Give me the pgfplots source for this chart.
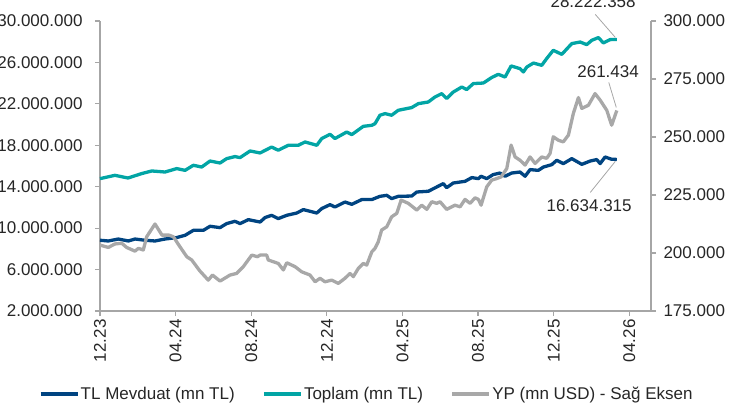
\documentclass[border=0pt]{standalone}
\usepackage{fontspec}
\setmainfont{Liberation Sans}
\usepackage{pgfplots}
\usepackage{pgfplotstable}
\pgfplotsset{compat=1.18}
\definecolor{tlblue}{HTML}{004481}
\definecolor{tealc}{HTML}{02A5A5}
\definecolor{ypgray}{HTML}{A8A8A8}
\definecolor{axgray}{HTML}{A6A6A6}
\definecolor{txt}{HTML}{262626}
\newcommand\fs{\fontsize{17bp}{20bp}\selectfont}

\pgfplotstableread{
x y
0 14.78
0.79 15.10
1.48 14.84
2.21 15.27
2.74 15.52
3.44 15.42
4.06 15.75
4.50 15.58
4.94 16.07
5.38 15.90
5.82 16.48
6.35 16.29
6.70 16.71
7.14 16.91
7.41 16.81
7.94 17.45
8.47 17.26
9.08 17.83
9.43 17.52
9.96 18.00
10.49 18.00
10.85 18.32
11.47 18.00
11.73 18.65
12.17 19.06
12.43 18.65
13.05 19.28
13.32 19.03
13.93 19.83
14.38 19.93
14.55 20.09
14.81 20.90
15.08 21.06
15.43 20.90
15.78 21.38
16.49 21.64
16.84 22.02
17.37 22.18
17.72 22.66
18.08 22.99
18.34 22.51
18.69 23.14
19.14 23.63
19.40 23.38
19.75 23.96
20.28 24.01
20.72 24.54
21.07 24.85
21.43 24.59
21.75 25.66
22.22 25.40
22.40 25.08
22.58 25.56
22.93 25.94
23.37 25.72
23.63 26.37
23.98 27.17
24.43 26.78
24.96 27.82
25.40 27.97
25.75 27.72
26.02 28.14
26.37 28.40
26.63 27.88
26.98 28.20
27.34 28.222
}\toplam

\pgfplotstableread{
x y
0 8.83
0.44 8.76
0.97 8.95
1.50 8.76
1.85 8.95
2.38 8.83
2.91 8.76
3.44 8.95
4.06 9.09
4.50 9.31
4.94 9.79
5.47 9.79
5.82 10.18
6.35 10.05
6.70 10.44
7.14 10.66
7.41 10.44
7.85 10.82
8.47 10.59
8.73 11.02
9.08 11.24
9.43 10.92
9.88 11.24
10.41 11.46
10.76 11.79
11.47 11.46
11.73 11.89
12.17 12.27
12.43 12.04
12.96 12.52
13.32 12.30
13.85 12.76
14.38 12.76
14.81 13.07
15.17 13.17
15.43 12.85
15.78 13.07
16.49 13.10
16.76 13.49
17.37 13.56
17.81 13.97
18.16 14.30
18.34 13.91
18.69 14.36
19.31 14.52
19.67 14.88
20.02 14.78
20.16 15.01
20.46 14.78
20.80 15.17
21.16 15.32
21.43 15.01
21.78 15.32
22.22 15.42
22.49 15.01
22.75 15.65
23.19 15.58
23.46 15.90
23.90 16.13
24.16 16.55
24.51 16.23
24.96 16.71
25.49 16.16
25.93 16.48
26.28 16.62
26.46 16.23
26.72 16.87
27.07 16.65
27.34 16.634
}\tlmev

\pgfplotstableread{
x y
0 203.4
0.44 202.4
0.79 203.9
1.15 204.2
1.41 202.4
1.85 200.8
2.03 202.0
2.29 201.3
2.47 207.0
2.91 212.5
3.28 207.7
3.65 207.7
3.88 207.0
4.23 202.7
4.59 198.4
4.85 197.0
5.29 192.2
5.73 188.3
5.95 190.5
6.35 187.9
6.88 190.5
7.23 191.2
7.58 194.1
8.03 199.1
8.33 198.4
8.47 199.1
8.82 199.1
8.90 197.0
9.43 195.5
9.70 192.7
9.88 195.8
10.32 194.1
10.67 191.9
11.11 190.5
11.38 187.6
11.64 189.1
11.90 187.6
12.26 188.3
12.61 186.9
12.96 189.1
13.23 191.2
13.40 189.8
13.67 193.4
13.93 195.5
14.11 194.8
14.38 200.5
14.55 202.0
14.72 204.8
14.90 209.9
15.17 211.3
15.43 215.6
15.70 217.1
15.93 222.8
16.31 221.4
16.76 218.5
17.02 220.6
17.29 218.8
17.55 222.1
17.81 221.4
17.99 222.1
18.34 218.8
18.78 220.6
19.05 219.9
19.31 223.1
19.58 221.4
19.84 223.8
20.02 223.1
20.16 220.6
20.46 228.5
20.72 231.4
20.99 232.1
21.22 232.8
21.52 236.4
21.75 246.5
21.96 241.4
22.22 240.0
22.49 237.9
22.75 241.4
23.02 238.6
23.37 241.4
23.63 240.8
23.81 242.9
23.98 250.1
24.25 248.6
24.51 247.9
24.78 250.8
25.04 260.1
25.31 267.0
25.49 262.3
25.84 263.7
26.19 268.7
26.46 265.9
26.81 261.5
27.07 255.1
27.34 261.434
}\yp

\begin{document}
\begin{tikzpicture}
\path[use as bounding box, clip] (-100bp,-95bp) rectangle (634bp,311bp);
\begin{axis}[
  at={(0,0)}, anchor=south west,
  scale only axis, width=551bp, height=290bp,
  clip=false,
  xmin=0, xmax=29.15, ymin=2, ymax=30,
  axis x line*=bottom, axis y line*=left,
  axis line style={axgray, line width=1.2bp},
  every tick/.style={axgray, line width=1.2bp},
  tick align=outside, major tick length=5bp,
  xtick={0,4,...,28},
  xticklabels={12.23,04.24,08.24,12.24,04.25,08.25,12.25,04.26},
  xticklabel style={rotate=90, anchor=east, font=\fs, text=txt},
  ytick={2,6,...,30},
  yticklabels={2.000.000,6.000.000,10.000.000,14.000.000,18.000.000,22.000.000,26.000.000,30.000.000},
  yticklabel style={font=\fs, text=txt, xshift=-9bp},
  legend image code/.code={\draw[#1] (0bp,0bp) -- (37bp,0bp);},
  legend columns=3,
  legend style={draw=none, fill=none, font=\fs, text=txt,
    at={(0.4837,-0.286)}, anchor=center,
    /tikz/every even column/.append style={column sep=26bp},
    nodes={inner xsep=1.5bp}},
]
\addplot[tlblue, line width=3.3bp, line join=round] table[x=x,y=y] {\tlmev};
\addlegendentry{TL Mevduat (mn TL)}
\addplot[tealc, line width=3.3bp, line join=round] table[x=x,y=y] {\toplam};
\addlegendentry{Toplam (mn TL)}
\addlegendimage{ypgray, line width=3.3bp}
\addlegendentry{YP (mn USD) - Sağ Eksen}
\draw[axgray, line width=0.8bp] (axis cs:27.34,28.222) ++(-1.5bp,2bp) -- ++(-20bp,23bp);
\node[text=txt, font=\fs] at (axis cs:27.34,28.222) [xshift=-23.7bp, yshift=38bp] {28.222.358};
\draw[axgray, line width=0.8bp] (axis cs:27.34,16.634) ++(-1.5bp,-2bp) -- ++(-25bp,-31bp);
\node[text=txt, font=\fs] at (axis cs:27.34,16.634) [xshift=-27.7bp, yshift=-46bp] {16.634.315};
\end{axis}
\begin{axis}[
  at={(0,0)}, anchor=south west,
  scale only axis, width=551bp, height=290bp,
  clip=false,
  xmin=0, xmax=29.15, ymin=175, ymax=300,
  axis x line=none, axis y line*=right,
  axis line style={axgray, line width=1.2bp},
  every tick/.style={axgray, line width=1.2bp},
  tick align=outside, major tick length=5bp,
  ytick={175,200,...,300},
  yticklabels={175.000,200.000,225.000,250.000,275.000,300.000},
  yticklabel style={font=\fs, text=txt, xshift=4bp},
]
\addplot[ypgray, line width=3.3bp, line join=round] table[x=x,y=y] {\yp};
\draw[axgray, line width=0.8bp] (axis cs:27.34,261.434) ++(-0.5bp,3bp) -- ++(-7.5bp,25bp);
\node[text=txt, font=\fs] at (axis cs:27.34,261.434) [xshift=-8.7bp, yshift=39.3bp] {261.434};
\end{axis}
\end{tikzpicture}
\end{document}
